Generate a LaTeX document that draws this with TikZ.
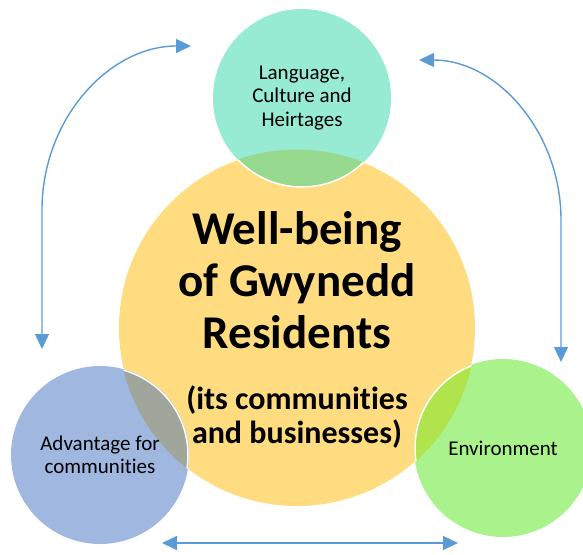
\documentclass[tikz,border=0pt]{standalone}
\usepackage{fontspec}
\setmainfont{Carlito}[Ligatures={NoCommon}, Contextuals={NoAlternate}]
\usetikzlibrary{arrows.meta}
\definecolor{Y4}{RGB}{255,220,128}
\definecolor{T4}{RGB}{150,235,210}
\definecolor{TY}{RGB}{150,217,143}
\definecolor{B4}{RGB}{160,183,224}
\definecolor{BY}{RGB}{160,166,156}
\definecolor{G4}{RGB}{170,243,140}
\definecolor{GY}{RGB}{176,227,76}
\definecolor{A4}{RGB}{91,155,213}
\tikzset{
  disc/.style={circle, inner sep=0pt, minimum size=178pt},
  small/.style={align=center, font=\fontsize{21}{23.5}\selectfont},
  rim/.style={white, line width=1.5pt},
  link/.style={A4, line width=1.4pt, {Triangle[length=15pt,width=14pt]}-{Triangle[length=15pt,width=14pt]}},
}

\begin{document}
\begin{tikzpicture}[x=1pt,y=-1pt]
      \useasboundingbox (0,0) rectangle (583,554);
      % centre and outer circles
      \node[disc, fill=Y4, minimum size=356pt] (well) at (297,328) {};
      \node[disc, fill=T4] (lang) at (302,98) {};
      \node[disc, fill=B4] (adv) at (100,455) {};
      \node[disc, fill=G4] (env) at (503,448) {};
      \begin{scope}
        \clip (well.center) circle (178.5);
        \fill[TY] (lang.center) circle (89);
        \fill[BY] (adv.center) circle (88);
        \fill[GY] (env.center) circle (88);
        \draw[rim] (lang.center) circle (89);
        \draw[rim] (adv.center) circle (88);
        \draw[rim] (env.center) circle (88);
      \end{scope}
      % texts
      \node[align=center, font=\fontsize{47}{52}\selectfont\bfseries] (title) at (297,280) {Well-being\\of Gwynedd\\Residents};
      \node[align=center, font=\fontsize{32}{34}\selectfont\bfseries] (sub) at (297,417) {(its communities\\and businesses)};
      \node[small] (langtxt) at (lang) {Language,\\Culture and\\Heirtages};
      \node[small] (advtxt) at (adv) {Advantage for\\communities};
      \node[small] (envtxt) at (env) {Environment};
      % arrows
      \coordinate (l1) at (42,349); \coordinate (l2) at (42,210); \coordinate (l3) at (191,46);
      \coordinate (r1) at (419,60); \coordinate (r2) at (561,220); \coordinate (r3) at (561,362);
      \coordinate (b1) at (162,543); \coordinate (b2) at (458,543);
      \draw[link] (l1) -- (l2) .. controls +(0,-91) and +(-82,0) .. (l3);
      \draw[link] (r1) .. controls +(78,0) and +(0,-88) .. (r2) -- (r3);
      \draw[link] (b1) -- (b2);
    \end{tikzpicture}
\end{document}
